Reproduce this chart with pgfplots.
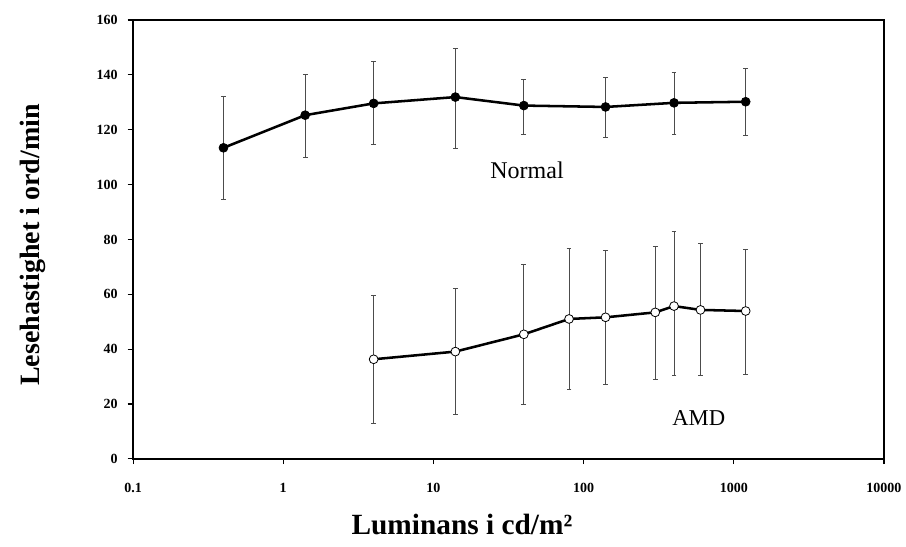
\documentclass[border=0pt]{standalone}
\usepackage{fontspec}
\setmainfont{Liberation Serif}
\usepackage{pgfplots}
\pgfplotsset{compat=1.18}

\begin{document}
\begin{tikzpicture}[x=1pt,y=1pt]
  \begin{axis}[
      scale only axis,
      width=563pt, height=329pt,
      xmode=log, log basis x=10,
      xmin=0.1, xmax=10000,
      ymin=0, ymax=160,
      xtick={0.1,1,10,100,1000,10000},
      xticklabels={0.1,1,10,100,1000,10000},
      ytick={0,20,40,60,80,100,120,140,160},
      xminorticks=false,
      xtick pos=bottom, ytick pos=left,
      tick align=outside,
      major tick length=4pt,
      tick style={black, line width=0.8pt},
      axis line style={black, line width=1.4pt},
      every tick label/.style={font=\bfseries\fontsize{10.5}{12}\selectfont},
      /pgf/number format/assume math mode=true,
      xticklabel style={yshift=-11pt},
      yticklabel style={xshift=-4pt},
      xlabel={Luminans i cd/m²},
      ylabel={Lesehastighet i ord/min},
      xlabel style={font=\bfseries\fontsize{22}{24}\selectfont, at={(axis description cs:0.438,-0.15)}, anchor=center},
      ylabel style={font=\bfseries\fontsize{21}{24}\selectfont, at={(axis description cs:-0.134,0.487)}, anchor=center},
      clip=false,
  ]
  % Normal
  \addplot[black, line width=1.9pt, mark=*, mark size=3.3pt,
      mark options={fill=black, line width=0.6pt},
      error bars/.cd, y dir=both, y explicit,
      error bar style={gray!60!black, line width=0.7pt},
      error mark options={rotate=90, mark size=1.8pt, gray!60!black, line width=0.7pt}]
    coordinates {
      (0.4,113.4)  += (0,18.6) -= (0,18.7)
      (1.4,125.3)  += (0,14.7) -= (0,15.6)
      (4,129.6)    += (0,15.4) -= (0,14.8)
      (14,131.9)   += (0,17.9) -= (0,18.9)
      (40,128.8)   += (0,9.7)  -= (0,10.4)
      (140,128.3)  += (0,10.7) -= (0,11.1)
      (400,129.8)  += (0,10.9) -= (0,11.7)
      (1200,130.2) += (0,12.1) -= (0,12.2)
    };
  % AMD
  \addplot[black, line width=1.9pt, mark=*, mark size=3.3pt,
      mark options={fill=white, line width=0.6pt},
      error bars/.cd, y dir=both, y explicit,
      error bar style={gray!60!black, line width=0.7pt},
      error mark options={rotate=90, mark size=1.8pt, gray!60!black, line width=0.7pt}]
    coordinates {
      (4,36.3)    += (0,23.4) -= (0,23.3)
      (14,39.1)   += (0,23.1) -= (0,23.1)
      (40,45.4)   += (0,25.5) -= (0,25.4)
      (80,51.0)   += (0,25.8) -= (0,25.6)
      (140,51.6)  += (0,24.5) -= (0,24.6)
      (300,53.4)  += (0,24.2) -= (0,24.3)
      (400,55.7)  += (0,27.1) -= (0,25.4)
      (600,54.3)  += (0,24.3) -= (0,24.0)
      (1200,53.9) += (0,22.5) -= (0,23.0)
    };
  \node[font=\fontsize{18}{20}\selectfont] at (axis cs:42,105.3) {Normal};
  \node[font=\fontsize{17}{19}\selectfont] at (axis cs:585,15) {AMD};
  \coordinate (bl) at (rel axis cs:0,0);
  \coordinate (tr) at (rel axis cs:1,1);
  \end{axis}
  \pgfresetboundingbox
  \path ([shift={(-99.75pt,-66pt)}]bl) rectangle ([shift={(16.5pt,15pt)}]tr);
\end{tikzpicture}
\end{document}
